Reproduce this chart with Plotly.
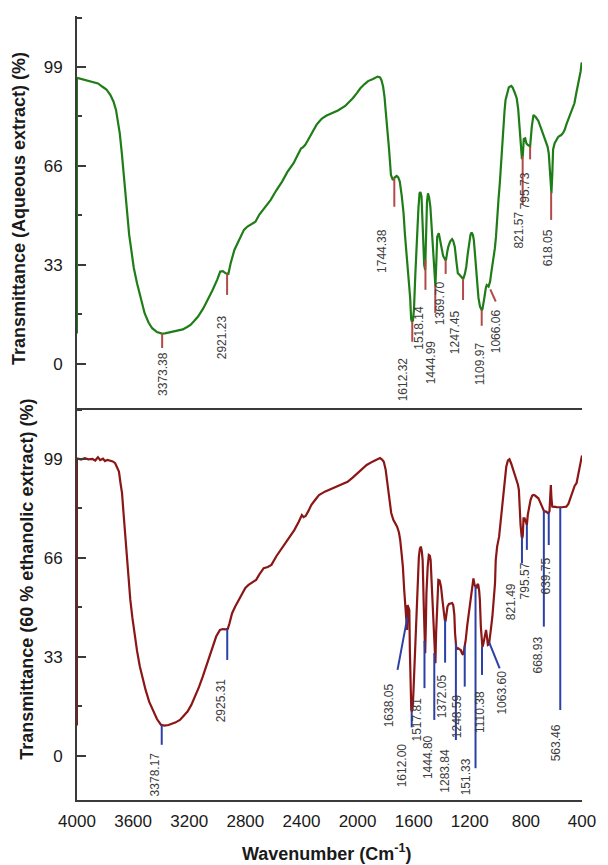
import numpy as np
import plotly.graph_objects as go
from plotly.subplots import make_subplots

# ---------------- data ----------------
# Aqueous extract spectrum (wavenumber cm-1, transmittance %)
aq_wn = [4000, 3950, 3899, 3850, 3818, 3790, 3763, 3740, 3722, 3705, 3695, 3680, 3668, 3655, 3641,
         3628, 3613, 3595, 3572, 3545, 3518, 3490, 3464, 3430, 3395, 3373, 3340, 3300, 3246, 3215,
         3191, 3165, 3137, 3100, 3069, 3035, 3001, 2979, 2960, 2940, 2921, 2905, 2878, 2845, 2810,
         2785, 2769, 2745, 2728, 2700, 2674, 2650, 2619, 2580, 2538, 2500, 2456, 2425, 2402, 2390,
         2374, 2355, 2334, 2310, 2293, 2270, 2252, 2220, 2184, 2140, 2088, 2060, 2034, 2005, 1980,
         1950, 1925, 1890, 1857, 1840, 1830, 1818, 1808, 1795, 1789, 1775, 1762, 1748, 1735, 1721,
         1710, 1699, 1685, 1672, 1662, 1653, 1645, 1639, 1631, 1625, 1618, 1612, 1605, 1598, 1588,
         1577, 1566, 1558, 1552, 1544, 1535, 1525, 1518, 1512, 1505, 1498, 1490, 1481, 1470, 1462,
         1452, 1445, 1440, 1432, 1421, 1410, 1400, 1390, 1375, 1370, 1360, 1353, 1340, 1326, 1318,
         1307, 1295, 1285, 1275, 1264, 1250, 1247, 1235, 1225, 1215, 1204, 1195, 1187, 1178, 1171,
         1160, 1149, 1138, 1127, 1115, 1110, 1100, 1095, 1085, 1079, 1066, 1055, 1048, 1040, 1030,
         1021, 1013, 1005, 995, 986, 975, 963, 952, 945, 932,
         922, 905, 895, 880, 865, 855, 847, 838, 828, 822,
         815, 805, 796, 786, 778, 770, 758, 746, 730, 711,
         688, 670, 653, 645, 637, 629, 623, 618, 612, 606,
         595, 583, 571, 560, 548, 535, 524, 510, 496, 478,
         465, 454, 442, 431, 419, 410, 403, 400]
aq_t = [95.4, 94.8, 94.1, 93.5, 92.4, 91.5, 89.7, 87.5, 84.7, 80.0, 76.9, 70.0, 63.6, 56.0, 49.1,
        43.0, 38.0, 32.0, 26.9, 21.5, 16.9, 13.8, 11.9, 10.6, 10.1, 10.2, 10.5, 11.0, 11.5, 12.3,
        13.0, 14.3, 15.8, 18.5, 21.3, 24.5, 28.0, 30.8, 30.9, 30.2, 30.0, 33.5, 38.0, 41.5, 44.7,
        45.8, 46.3, 47.0, 47.4, 49.8, 51.3, 52.8, 54.7, 57.8, 60.8, 64.0, 66.9, 69.8, 71.9, 72.2,
        73.0, 74.5, 76.3, 78.5, 79.7, 81.0, 81.9, 82.8, 83.6, 84.5, 86.0, 87.2, 88.6, 90.3, 91.9,
        93.3, 94.3, 95.0, 95.8, 95.5, 94.7, 92.5, 89.1, 82.0, 79.1, 71.3, 63.0, 61.3, 62.2, 62.7,
        62.2, 60.8, 56.0, 50.2, 43.0, 38.0, 32.0, 29.1, 25.8, 22.0, 15.0, 14.0, 14.5, 18.0, 30.0,
        43.6, 52.0, 56.9, 57.3, 55.8, 45.0, 33.0, 31.3, 42.0, 54.0, 56.9, 55.5, 52.4, 44.0, 36.9,
        28.0, 25.8, 32.0, 42.4, 43.6, 41.0, 38.0, 36.0, 34.7, 34.5, 37.5, 39.1, 40.8, 41.6, 41.0,
        39.1, 34.0, 30.2, 29.8, 29.1, 28.2, 28.3, 30.0, 32.4, 36.5, 40.2, 43.0, 43.8, 43.0, 41.3,
        34.0, 26.9, 22.0, 19.1, 18.0, 18.2, 20.5, 22.4, 25.5, 26.3, 25.8, 27.5, 30.0, 32.4, 36.0,
        38.6, 42.5, 49.1, 55.0, 60.2, 68.0, 79.0, 84.5, 88.0, 91.0,
        92.2, 92.7, 92.2, 90.5, 88.5, 85.0, 80.0, 72.0, 68.3, 69.5,
        75.0, 75.2, 73.5, 73.0, 72.6, 72.5, 79.0, 83.0, 82.3, 81.0,
        78.0, 75.6, 74.0, 72.4, 70.2, 63.0, 57.5, 56.9, 63.0, 71.5,
        73.6, 74.8, 75.6, 76.0, 76.3, 77.0, 78.0, 80.0, 81.8, 84.0,
        85.5, 86.9, 90.0, 92.4, 95.7, 97.5, 100.2, 100.5]

# 60 % ethanolic extract spectrum
et_wn = [4000, 3970, 3945, 3918, 3890, 3870, 3851, 3835, 3815, 3800, 3783, 3760, 3745, 3728, 3715,
         3701, 3690, 3679, 3670, 3660, 3650, 3639, 3630, 3620, 3605, 3592, 3572, 3552, 3530, 3511,
         3485, 3457, 3430, 3402, 3378, 3348, 3300, 3266, 3240, 3212, 3185, 3158, 3130, 3103, 3075,
         3049, 3025, 3008, 2981, 2960, 2940, 2925, 2913, 2895, 2872, 2850, 2832, 2800, 2777, 2750,
         2723, 2700, 2669, 2640, 2614, 2580, 2533, 2490, 2451, 2420, 2397, 2385, 2370, 2350, 2329,
         2300, 2275, 2230, 2180, 2120, 2071, 2035, 2003, 1970, 1935, 1890, 1860, 1840, 1825, 1813,
         1800, 1794, 1785, 1772, 1760, 1745, 1730, 1718, 1705, 1696, 1685, 1677, 1667, 1658, 1650,
         1647, 1643, 1638, 1631, 1627, 1623, 1617, 1612, 1606, 1601, 1592, 1582, 1572, 1563, 1556,
         1549, 1542, 1536, 1528, 1522, 1518, 1513, 1509, 1500, 1492, 1485, 1479, 1472, 1465, 1458,
         1451, 1445, 1440, 1433, 1424, 1415, 1405, 1395, 1386, 1378, 1372, 1365, 1359, 1348, 1337,
         1326, 1318, 1310, 1305, 1296, 1290, 1283, 1275, 1264, 1256, 1248, 1240, 1229, 1218, 1207,
         1195, 1185, 1174, 1166, 1158, 1151, 1145, 1139, 1133, 1128, 1121, 1115, 1110, 1104, 1098,
         1090, 1084, 1077, 1071, 1063, 1058, 1050, 1039, 1030, 1020, 1015, 1005, 991, 980, 968,
         956, 940, 928, 917, 905, 890, 876, 863, 857, 850,
         844, 838, 830, 826, 822, 817, 809, 800, 793, 786,
         775, 767, 755, 746, 735, 722, 711, 700, 688, 676,
         669, 660, 653, 645, 639, 632, 626, 622, 618, 612,
         600, 594, 580, 563, 545, 530, 512, 497, 482, 467,
         452, 439, 430, 420, 410, 403, 400]
et_t = [99.2, 98.8, 99.3, 98.9, 99.0, 98.5, 99.6, 98.6, 99.1, 98.3, 98.7, 98.5, 98.2, 97.6, 96.5,
        94.8, 91.0, 87.6, 82.0, 76.4, 70.0, 63.1, 57.0, 52.0, 46.0, 40.9, 35.0, 29.8, 25.5, 22.0,
        18.0, 14.8, 12.3, 10.4, 10.1, 10.3, 11.1, 12.0, 13.2, 14.8, 17.0, 19.8, 23.0, 26.5, 30.5,
        34.2, 37.5, 39.8, 42.0, 42.3, 42.2, 42.4, 44.2, 47.5, 49.8, 51.7, 53.1, 56.0, 57.0, 57.8,
        58.7, 60.5, 62.6, 63.0, 63.7, 66.5, 69.8, 73.0, 75.3, 78.0, 80.3, 79.6, 80.0, 81.7, 83.7,
        85.5, 87.0, 88.2, 89.2, 90.3, 91.4, 92.8, 94.2, 95.8, 97.0, 98.2, 99.0, 99.3, 98.8, 98.1,
        95.5, 93.1, 89.0, 85.3, 81.0, 78.7, 77.2, 76.4, 74.5, 72.0, 67.0, 63.1, 55.0, 49.8, 44.0,
        42.0, 50.3, 49.5, 48.7, 35.0, 18.7, 15.3, 14.8, 17.0, 22.0, 33.0, 46.4, 58.0, 66.4, 69.0,
        69.8, 68.3, 65.3, 50.0, 36.0, 34.2, 44.0, 54.2, 63.0, 67.0, 66.8, 65.3, 58.0, 49.8, 40.0,
        32.0, 30.9, 41.0, 49.8, 58.7, 58.5, 56.4, 52.0, 47.6, 45.3, 45.2, 48.5, 49.8, 50.7, 50.9,
        51.0, 50.3, 47.0, 40.9, 35.9, 35.7, 35.9, 35.6, 35.3, 34.2, 33.7, 35.5, 38.7, 43.5, 47.6,
        51.5, 54.2, 59.2, 57.0, 56.5, 55.9, 57.3, 57.0, 55.0, 52.0, 43.0, 36.4, 36.3, 37.2, 38.7,
        40.6, 42.0, 39.5, 37.0, 37.2, 38.7, 42.0, 46.4, 52.0, 57.6, 65.3, 69.8, 73.1, 78.1, 84.0,
        89.8, 96.4, 98.5, 98.9, 97.5, 95.3, 93.1, 92.0, 90.5, 88.7,
        81.0, 77.0, 73.1, 72.6, 73.5, 79.2, 79.2, 78.1, 77.0, 80.5,
        84.0, 85.3, 86.8, 87.0, 86.8, 86.4, 85.9, 84.8, 83.5, 82.0,
        81.4, 81.5, 81.4, 81.0, 80.9, 81.5, 86.0, 90.3, 86.0, 83.1,
        83.0, 83.1, 82.9, 82.8, 82.9, 83.0, 83.1, 84.0, 86.0, 88.7,
        90.1, 90.9, 93.0, 95.9, 97.5, 99.2, 100.2]

# peak labels (as printed)
aq_labels = ["3373.38", "2921.23", "1744.38", "1612.32", "1518.14", "1444.99", "1369.70",
             "1247.45", "1109.97", "1066.06", "821.57", "795.73", "618.05"]
et_labels = ["3378.17", "2925.31", "1638.05", "1612.00", "1517.81", "1444.80", "1372.05",
             "1283.84", "1248.59", "151.33", "1110.38", "1063.60", "821.49", "795.57",
             "668.93", "639.75", "563.46"]

x_ticks = [4000, 3600, 3200, 2800, 2400, 2000, 1600, 1200, 800, 400]
y_ticks = [0, 33, 66, 99]
y_minor = [16.5, 49.5, 82.5, 115.5]

# ---------------- label placement (layout only) ----------------
# (tick x start, tick x end, tick y end, text x, text y, gap below curve)
aq_place = [
    (3393, 3393, 5.3, 3391, -3.2, 0),
    (2930, 2930, 23.0, 2964, 9.0, 0),
    (1738, 1738, 52.4, 1827, 37.6, 0),
    (1610, 1610, 7.4, 1680, -5.0, 0),
    (1516, 1516, 24.7, 1563, 12.0, 0),
    (1446, 1446, 17.0, 1477, 0.5, 0),
    (1372, 1372, 30.0, 1411, 20.3, 0),
    (1248, 1248, 21.3, 1300, 10.5, 0),
    (1115, 1115, 12.7, 1131, 0.0, 0),
    (1054, 1015, 20.8, 1015, 10.8, 3),
    (823, 823, 53.0, 851, 44.7, 0),
    (770, 770, 68.2, 805, 57.6, 0),
    (620, 620, 48.0, 641, 38.6, 0),
]
et_place = [
    (3396, 3396, 3.7, 3447, -6.3, 0),
    (2929, 2929, 32.0, 2976, 18.4, 0),
    (1645, 1715, 28.7, 1773, 17.0, 0),
    (1614, 1614, 9.5, 1687, -3.0, 0),
    (1523, 1523, 22.6, 1579, 12.0, 0),
    (1453, 1453, 12.0, 1493, -0.5, 0),
    (1376, 1376, 31.1, 1400, 19.8, 0),
    (1299, 1299, 5.3, 1376, -4.9, 0),
    (1236, 1236, 23.1, 1295, 13.4, 0),
    (1159, 1159, -4.1, 1229, -6.9, 0),
    (1113, 1113, 27.0, 1131, 14.8, 0),
    (1061, 987, 29.2, 973, 21.0, 0),
    (828, 828, 64.2, 910, 51.4, 0),
    (793, 793, 68.7, 809, 58.4, 0),
    (672, 672, 43.1, 716, 33.7, 0),
    (637, 637, 70.3, 660, 60.0, 0),
    (555, 555, 15.3, 583, 4.3, 0),
]

GREEN = "#1f7d17"
DARKRED = "#8b1616"
TICK_RED = "#b24a4a"
TICK_BLUE = "#2c40a6"
AXIS = "#3a3a3a"
FONT = "Liberation Sans, Arial, sans-serif"

fig = make_subplots(rows=2, cols=1, shared_xaxes=True, vertical_spacing=0)

fig.add_trace(go.Scatter(x=aq_wn, y=aq_t, mode="lines",
                         line=dict(color=GREEN, width=2.2), showlegend=False), row=1, col=1)
fig.add_trace(go.Scatter(x=et_wn, y=et_t, mode="lines",
                         line=dict(color=DARKRED, width=2.2), showlegend=False), row=2, col=1)


def curve_at(wn_list, t_list, x):
    xs = np.array(wn_list[::-1], dtype=float)
    ys = np.array(t_list[::-1], dtype=float)
    return float(np.interp(x, xs, ys))


shapes = []
annotations = []


def add_labels(wn_list, t_list, labels, place, yref, color):
    for lab, (tx0, tx1, ty1, txt_x, txt_y, gap) in zip(labels, place):
        y0 = curve_at(wn_list, t_list, tx0) - gap
        shapes.append(dict(type="line", xref="x", yref=yref, x0=tx0, x1=tx1,
                           y0=y0, y1=ty1, line=dict(color=color, width=2)))
        annotations.append(dict(x=txt_x, y=txt_y, xref="x", yref=yref, text=lab,
                                textangle=-90, showarrow=False,
                                font=dict(family=FONT, size=12, color="#3c3c3c"),
                                xanchor="center", yanchor="middle"))


add_labels(aq_wn, aq_t, aq_labels, aq_place, "y", TICK_RED)
add_labels(et_wn, et_t, et_labels, et_place, "y2", TICK_BLUE)

# coloured segment of the y-axis covering each data range (as in the original)
shapes.append(dict(type="line", xref="x", yref="y", x0=4000, x1=4000,
                   y0=min(aq_t), y1=aq_t[0], line=dict(color=GREEN, width=2)))
shapes.append(dict(type="line", xref="x", yref="y2", x0=4000, x1=4000,
                   y0=min(et_t), y1=et_t[0], line=dict(color=DARKRED, width=2)))

# axis titles
annotations.append(dict(xref="paper", yref="paper", x=-0.115, y=0.755,
                        text="<b>Transmittance (Aqueous extract) (%)</b>", textangle=-90,
                        showarrow=False, font=dict(family=FONT, size=18, color="#1a1a1a"),
                        xanchor="center", yanchor="middle"))
annotations.append(dict(xref="paper", yref="paper", x=-0.099, y=0.281,
                        text="<b>Transmittance (60 % ethanolic extract) (%)</b>", textangle=-90,
                        showarrow=False, font=dict(family=FONT, size=18, color="#1a1a1a"),
                        xanchor="center", yanchor="middle"))
annotations.append(dict(xref="paper", yref="paper", x=0.496, y=-0.0676,
                        text="<b>Wavenumber (Cm<sup>-1</sup>)</b>",
                        showarrow=False, font=dict(family=FONT, size=18, color="#1a1a1a"),
                        xanchor="center", yanchor="middle"))

xcommon = dict(range=[4000, 400], showline=True, linecolor=AXIS, linewidth=2,
               showgrid=False, zeroline=False, ticks="", tickvals=x_ticks,
               tickfont=dict(family=FONT, size=17, color="#1a1a1a"))
ycommon = dict(range=[-14.7, 116], showline=True, linecolor=AXIS, linewidth=2,
               showgrid=False, zeroline=False, tickvals=y_ticks, ticks="inside",
               ticklen=9, tickwidth=2, tickcolor=AXIS, ticklabelstandoff=9,
               tickfont=dict(family=FONT, size=17, color="#1a1a1a"),
               minor=dict(tickvals=y_minor, ticks="inside", ticklen=5, tickwidth=2,
                          tickcolor=AXIS, showgrid=False))

fig.update_xaxes(**xcommon)
fig.update_xaxes(showticklabels=False, row=1, col=1)
fig.update_xaxes(showticklabels=True, ticklabelstandoff=5, row=2, col=1)
fig.update_yaxes(**ycommon)

fig.update_layout(width=608, height=865, margin=dict(l=77, r=17, t=16, b=65),
                  plot_bgcolor="white", paper_bgcolor="white",
                  shapes=shapes, annotations=annotations,
                  font=dict(family=FONT))

fig.write_html("out.html", config={"displayModeBar": False},
               post_script="document.body.style.margin='0px';document.body.style.padding='0px';")
